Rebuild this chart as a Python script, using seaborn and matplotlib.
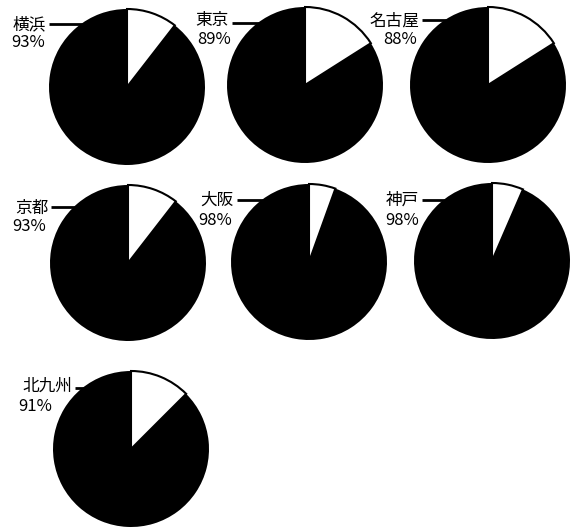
import numpy as np
import matplotlib
matplotlib.use("Agg")
import matplotlib.pyplot as plt
import seaborn as sns

# ---- data ----
cities = ["横浜", "東京", "名古屋", "京都", "大阪", "神戸", "北九州"]
pct_labels = [93, 89, 88, 93, 98, 98, 91]
# white wedge share (%) as drawn in the picture
white_share = [10.5, 16.0, 16.0, 10.5, 5.5, 6.5, 12.5]

sns.set_style("white")
plt.rcParams["font.family"] = ["Noto Sans CJK JP", "DejaVu Sans"]

W, H = 575, 528
fig = plt.figure(figsize=(W / 100, H / 100), dpi=100)
ax = fig.add_axes([0, 0, 1, 1])

# layout (pixel coordinates, y measured from top)
centers = [(127, 87), (305, 85), (488, 85),
           (128, 263), (309, 262), (492, 261),
           (131, 449)]
R = 78
# name label: (x, y_center, ha); pct label: (x, y_center, ha); leader y
name_pos = [(46, 24.5, "right"), (229, 20.5, "right"), (419, 21, "right"),
            (48, 208.5, "right"), (234, 200.5, "right"), (419, 200.5, "right"),
            (72, 386.5, "right")]
pct_pos = [(11, 42.5, "left"), (197, 39.5, "left"), (417, 39.5, "right"),
           (12, 226.5, "left"), (198, 220.5, "left"), (385, 220.5, "left"),
           (18, 406.5, "left")]
leader_y = [24, 23, 20, 207, 200, 200, 388]

for i, city in enumerate(cities):
    cx, cy = centers[i]
    w = white_share[i]
    wedges, _ = ax.pie([w, 100 - w], colors=["white", "black"], startangle=90,
                       counterclock=False, center=(cx, H - cy), radius=R,
                       wedgeprops=dict(linewidth=0), frame=True)
    wedges[0].set_edgecolor("black")
    wedges[0].set_linewidth(1.5)
    nx, ny, nha = name_pos[i]
    ax.text(nx, H - ny, city, ha=nha, va="center", fontsize=12, color="black")
    px, py, pha = pct_pos[i]
    ax.text(px, H - py, f"{pct_labels[i]}%", ha=pha, va="center",
            fontsize=12, color="black")
    # leader line from label to circle edge
    ly = leader_y[i]
    dy = cy - ly
    xe = cx - np.sqrt(max(R ** 2 - dy ** 2, 0)) + 3
    ax.plot([nx + 3, xe], [H - ly, H - ly], color="black", lw=2,
            solid_capstyle="butt")

ax.set_xlim(0, W)
ax.set_ylim(0, H)
ax.set_aspect("equal")
ax.axis("off")
fig.savefig("out.png", dpi=100, facecolor="white")
